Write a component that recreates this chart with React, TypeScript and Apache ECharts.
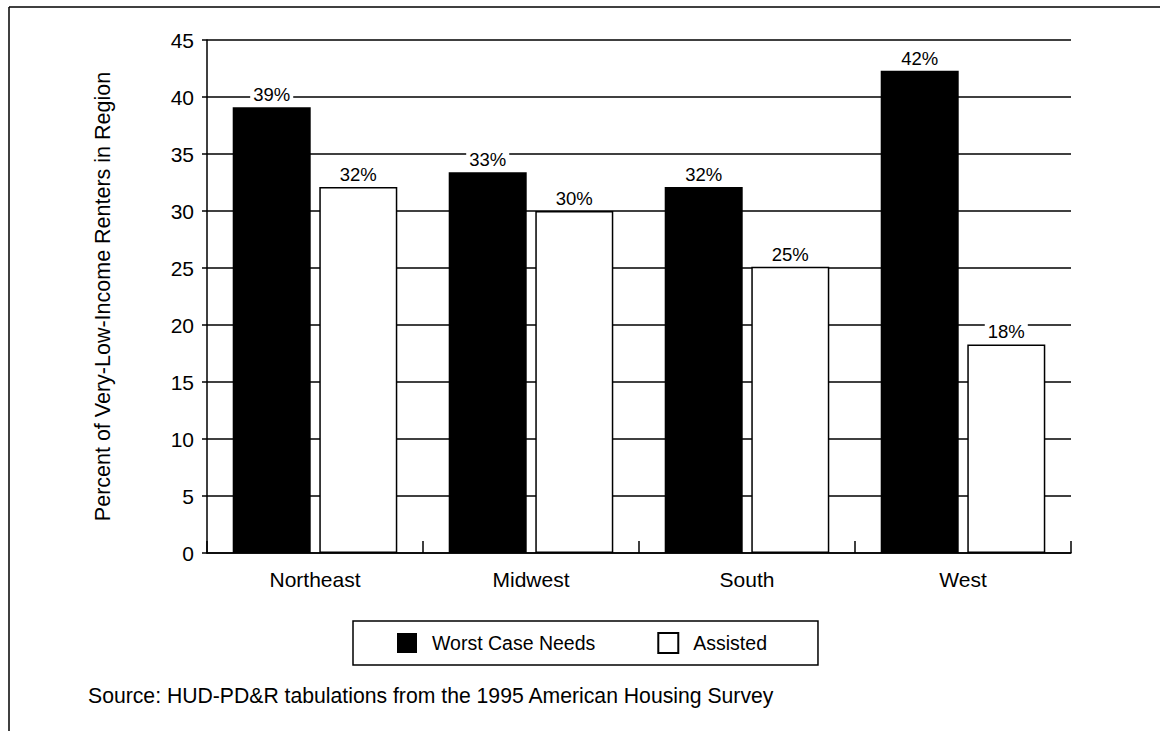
import React, { useEffect, useRef } from "react";
import * as echarts from "echarts";

const categories = ["Northeast", "Midwest", "South", "West"];
const worstCaseNeeds = [39.1, 33.4, 32.1, 42.3];
const assisted = [32.1, 30.0, 25.1, 18.3];
const seriesNames = ["Worst Case Needs", "Assisted"];
const yAxisTitle = "Percent of Very-Low-Income Renters in Region";
const sourceNote = "Source: HUD-PD&R tabulations from the 1995 American Housing Survey";

const FONT = "'Liberation Sans', Arial, Helvetica, sans-serif";

export default function App() {
  const ref = useRef<HTMLDivElement>(null);

  useEffect(() => {
    if (!ref.current) return;
    const chart = echarts.init(ref.current, null, { renderer: "svg" });
    const labelCfg = {
      show: true,
      position: "top",
      distance: 3,
      color: "#000",
      fontSize: 18.5,
      fontFamily: FONT,
      backgroundColor: "#fff",
      padding: [0, 3, 0, 3],
      formatter: (p: any) => Math.round(p.value) + "%",
    };
    chart.setOption({
      animation: false,
      backgroundColor: "#fff",
      textStyle: { fontFamily: FONT, color: "#000" },
      grid: { left: 207, right: 89, top: 40, bottom: 178 },
      legend: {
        left: 353,
        top: 621,
        padding: [11, 51, 11, 44],
        itemGap: 62,
        itemWidth: 20,
        itemHeight: 20,
        icon: "rect",
        borderColor: "#000",
        borderWidth: 1.5,
        textStyle: { fontSize: 19.5, fontFamily: FONT, color: "#000", padding: [0, 0, 0, 10] },
        data: seriesNames,
      },
      xAxis: {
        type: "category",
        data: categories,
        boundaryGap: true,
        axisLine: { show: true, lineStyle: { color: "#000", width: 1.5 } },
        axisTick: { show: true, inside: true, length: 12, lineStyle: { color: "#000", width: 1.5 } },
        axisLabel: { color: "#000", fontSize: 21, fontFamily: FONT, margin: 16 },
        splitLine: { show: false },
      },
      yAxis: {
        type: "value",
        min: 0,
        max: 45,
        interval: 5,
        name: yAxisTitle,
        nameLocation: "middle",
        nameRotate: 90,
        nameGap: 93,
        nameTextStyle: { color: "#000", fontSize: 21.5, fontFamily: FONT },
        axisLine: { show: true, lineStyle: { color: "#000", width: 1.5 } },
        axisTick: { show: true, inside: false, length: 5, lineStyle: { color: "#000", width: 1.5 } },
        axisLabel: { color: "#000", fontSize: 21, fontFamily: FONT, margin: 13 },
        splitLine: { show: true, lineStyle: { color: "#000", width: 1.5 } },
      },
      series: [
        {
          name: seriesNames[0],
          type: "bar",
          data: worstCaseNeeds,
          barWidth: 78,
          barGap: "11%",
          itemStyle: { color: "#000", borderColor: "#000", borderWidth: 0 },
          label: labelCfg,
        },
        {
          name: seriesNames[1],
          type: "bar",
          data: assisted,
          barWidth: 78,
          barGap: "11%",
          itemStyle: { color: "#fff", borderColor: "#000", borderWidth: 1.5 },
          label: labelCfg,
        },
      ],
      graphic: [
        {
          type: "line",
          shape: { x1: 9, y1: 7, x2: 1160, y2: 7 },
          style: { stroke: "#000", lineWidth: 1.5 },
        },
        {
          type: "line",
          shape: { x1: 9, y1: 7, x2: 9, y2: 731 },
          style: { stroke: "#000", lineWidth: 1.5 },
        },
        {
          type: "text",
          left: 88,
          top: 685,
          style: { text: sourceNote, fontSize: 21.2, fontFamily: FONT, fill: "#000" },
        },
      ],
    });
    return () => chart.dispose();
  }, []);

  return (
    <div
      ref={ref}
      style={{ position: "fixed", left: 0, top: 0, width: 1160, height: 731, background: "#fff" }}
    />
  );
}
